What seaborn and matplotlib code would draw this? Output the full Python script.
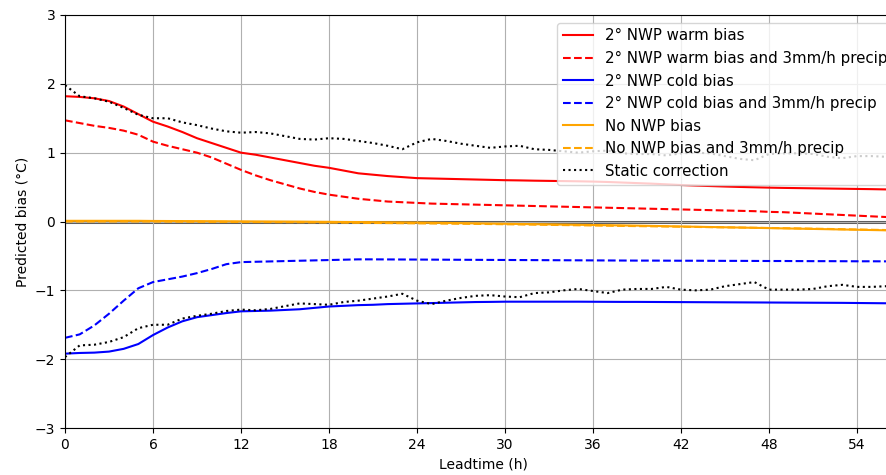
import numpy as np
import pandas as pd
import matplotlib
matplotlib.use("Agg")
import matplotlib.pyplot as plt
import seaborn as sns

hours = list(range(58))

warm = [1.82, 1.81, 1.79, 1.75, 1.67, 1.56, 1.45, 1.38, 1.30, 1.21,
        1.14, 1.07, 1.00, 0.97, 0.93, 0.89, 0.85, 0.81, 0.78, 0.74,
        0.70, 0.68, 0.66, 0.645, 0.63, 0.625, 0.62, 0.615, 0.61, 0.605,
        0.60, 0.597, 0.593, 0.59, 0.587, 0.584, 0.58, 0.574, 0.566, 0.558,
        0.55, 0.54, 0.53, 0.522, 0.515, 0.508, 0.502, 0.497, 0.492, 0.488,
        0.485, 0.482, 0.479, 0.476, 0.473, 0.47, 0.466, 0.462]

warm_precip = [1.47, 1.43, 1.39, 1.36, 1.32, 1.26, 1.16, 1.10, 1.05, 1.00,
               0.93, 0.84, 0.75, 0.67, 0.60, 0.54, 0.48, 0.43, 0.39, 0.36,
               0.33, 0.31, 0.29, 0.28, 0.27, 0.26, 0.255, 0.25, 0.245, 0.24,
               0.235, 0.23, 0.225, 0.22, 0.215, 0.21, 0.205, 0.20, 0.195, 0.19,
               0.185, 0.18, 0.175, 0.17, 0.165, 0.16, 0.155, 0.15, 0.14, 0.135,
               0.125, 0.115, 0.105, 0.095, 0.085, 0.075, 0.065, 0.055]

cold = [-1.92, -1.91, -1.905, -1.89, -1.85, -1.78, -1.65, -1.54, -1.45, -1.39,
        -1.36, -1.33, -1.305, -1.30, -1.295, -1.285, -1.275, -1.255, -1.235, -1.225,
        -1.215, -1.21, -1.20, -1.195, -1.19, -1.185, -1.18, -1.175, -1.17, -1.168,
        -1.165, -1.165, -1.165, -1.165, -1.165, -1.165, -1.166, -1.167, -1.168, -1.168,
        -1.169, -1.17, -1.171, -1.172, -1.173, -1.174, -1.175, -1.176, -1.177, -1.178,
        -1.179, -1.18, -1.181, -1.182, -1.184, -1.186, -1.188, -1.19]

cold_precip = [-1.69, -1.64, -1.51, -1.34, -1.15, -0.97, -0.88, -0.84, -0.80, -0.75,
               -0.69, -0.62, -0.59, -0.585, -0.58, -0.575, -0.57, -0.565, -0.56, -0.555,
               -0.55, -0.55, -0.551, -0.552, -0.553, -0.554, -0.555, -0.556, -0.557, -0.558,
               -0.559, -0.56, -0.561, -0.562, -0.563, -0.564, -0.565, -0.566, -0.567, -0.568,
               -0.568, -0.569, -0.57, -0.57, -0.571, -0.572, -0.572, -0.573, -0.574, -0.574,
               -0.575, -0.576, -0.576, -0.577, -0.578, -0.578, -0.579, -0.58]

no_bias = [0.01, 0.01, 0.01, 0.01, 0.01, 0.01, 0.008, 0.007, 0.006, 0.005,
           0.004, 0.003, 0.002, 0.001, 0.0, -0.001, -0.002, -0.004, -0.005, -0.007,
           -0.008, -0.01, -0.012, -0.014, -0.016, -0.018, -0.021, -0.024, -0.027, -0.03,
           -0.033, -0.036, -0.039, -0.042, -0.045, -0.048, -0.051, -0.054, -0.057, -0.06,
           -0.064, -0.068, -0.072, -0.076, -0.08, -0.084, -0.088, -0.092, -0.096, -0.1,
           -0.104, -0.108, -0.112, -0.116, -0.12, -0.124, -0.128, -0.132]

no_bias_precip = [0.0, 0.0, 0.0, 0.0, 0.0, 0.0, -0.001, -0.002, -0.003, -0.004,
                  -0.005, -0.006, -0.007, -0.008, -0.009, -0.01, -0.011, -0.013, -0.015, -0.017,
                  -0.019, -0.021, -0.023, -0.025, -0.027, -0.029, -0.031, -0.033, -0.035, -0.037,
                  -0.04, -0.043, -0.046, -0.049, -0.052, -0.055, -0.058, -0.061, -0.064, -0.067,
                  -0.07, -0.073, -0.076, -0.079, -0.082, -0.085, -0.088, -0.091, -0.094, -0.097,
                  -0.1, -0.104, -0.108, -0.112, -0.116, -0.12, -0.124, -0.128]

static_upper = [1.98, 1.82, 1.79, 1.74, 1.65, 1.55, 1.50, 1.50, 1.44, 1.40,
                1.35, 1.31, 1.29, 1.30, 1.28, 1.24, 1.20, 1.19, 1.21, 1.20,
                1.17, 1.14, 1.10, 1.05, 1.15, 1.20, 1.17, 1.13, 1.10, 1.07,
                1.09, 1.10, 1.05, 1.04, 1.02, 1.00, 1.02, 1.03, 0.99, 0.98,
                0.98, 0.96, 0.99, 1.00, 0.99, 0.95, 0.91, 0.89, 0.98, 0.99,
                0.99, 0.98, 0.94, 0.92, 0.95, 0.95, 0.94, 0.94]

static_lower = [-1.97, -1.80, -1.79, -1.75, -1.68, -1.55, -1.50, -1.50, -1.41, -1.37,
                -1.34, -1.30, -1.28, -1.29, -1.27, -1.23, -1.19, -1.20, -1.21, -1.17,
                -1.15, -1.12, -1.09, -1.05, -1.15, -1.20, -1.15, -1.11, -1.08, -1.07,
                -1.09, -1.10, -1.04, -1.03, -1.00, -0.98, -1.01, -1.04, -0.99, -0.98,
                -0.98, -0.95, -0.99, -1.00, -0.99, -0.94, -0.91, -0.88, -0.99, -0.99,
                -0.99, -0.98, -0.94, -0.92, -0.95, -0.95, -0.94, -0.94]

xticks = [0, 6, 12, 18, 24, 30, 36, 42, 48, 54]
yticks = [-3, -2, -1, 0, 1, 2, 3]

series = [
    ("2° NWP warm bias", warm, "red", "-"),
    ("2° NWP warm bias and 3mm/h precip", warm_precip, "red", "--"),
    ("2° NWP cold bias", cold, "blue", "-"),
    ("2° NWP cold bias and 3mm/h precip", cold_precip, "blue", "--"),
    ("No NWP bias", no_bias, "orange", "-"),
    ("No NWP bias and 3mm/h precip", no_bias_precip, "orange", "--"),
    ("Static correction", static_upper, "black", ":"),
    ("_nolegend_", static_lower, "black", ":"),
]

fig = plt.figure(figsize=(8.87, 4.75), dpi=100)
ax = fig.add_axes([65 / 887, 47 / 475, 836 / 887, 413 / 475])
ax.axhline(0, color="#5a5a5a", lw=2.2, zorder=1.5)

for label, vals, color, ls in series:
    sns.lineplot(x=hours, y=vals, color=color, linestyle=ls, lw=1.5,
                 label=label, ax=ax, legend=False)

handles, labels = ax.get_legend_handles_labels()
keep = [(h, l) for h, l in zip(handles, labels) if not l.startswith("_")]
ax.legend([h for h, _ in keep], [l for _, l in keep], loc="upper right", fontsize=10.8)

ax.set_xlim(0, 57)
ax.set_ylim(-3, 3)
ax.set_xticks(xticks)
ax.set_yticks(yticks)
ax.grid(True)
ax.set_xlabel("Leadtime (h)")
ax.set_ylabel("Predicted bias (°C)")

fig.savefig("out.png", dpi=100)
